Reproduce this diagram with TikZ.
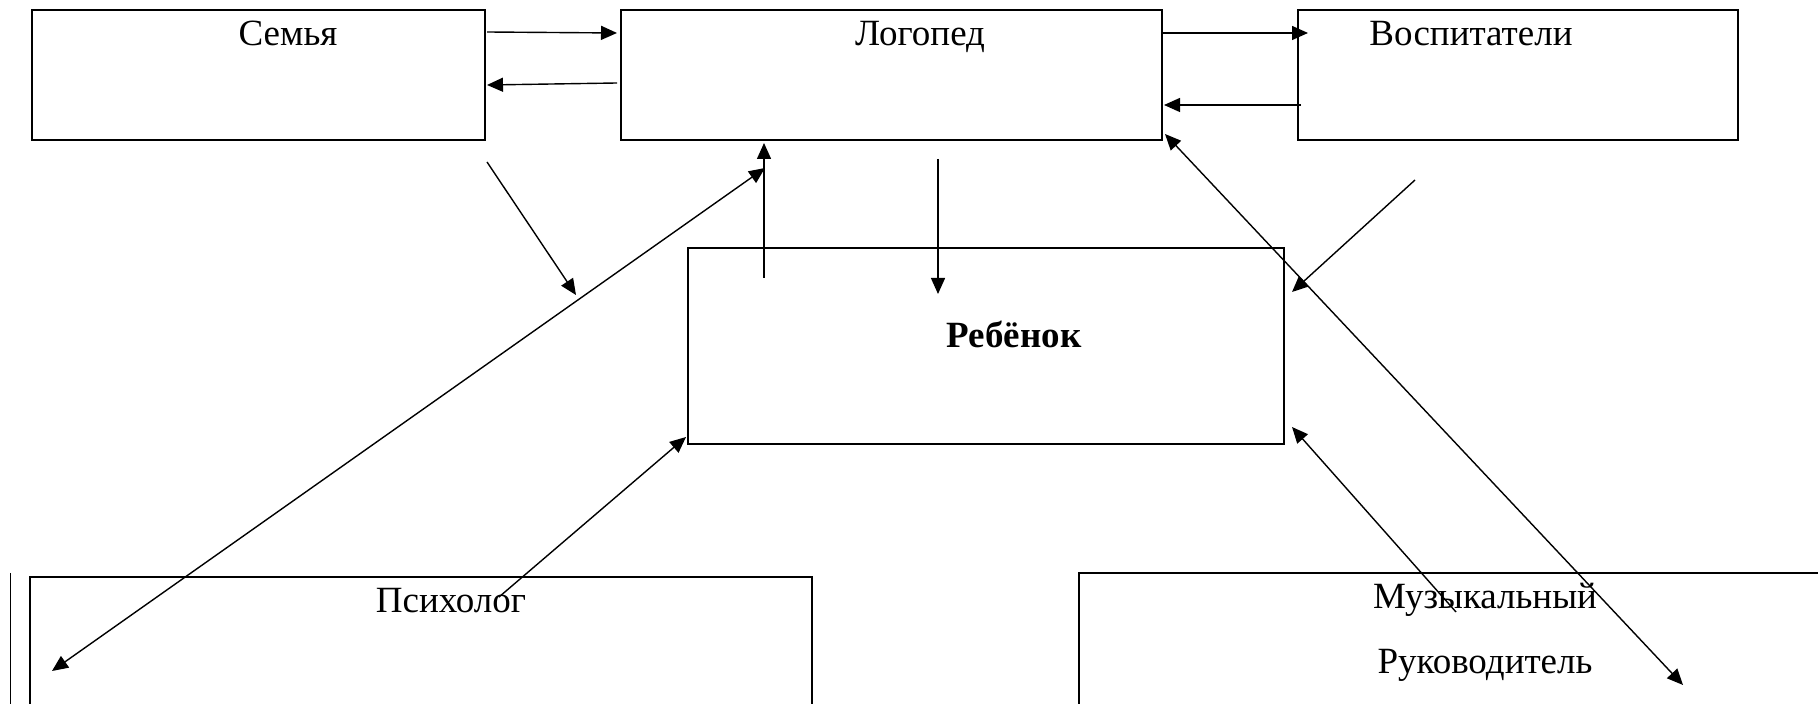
\documentclass[tikz,border=0pt]{standalone}
\usepackage{fontspec}
\setmainfont{Liberation Serif}
\usetikzlibrary{arrows.meta}
\usetikzlibrary{fit}

\begin{document}
\begin{tikzpicture}[x=0.5pt,y=-0.5pt,
  box/.style={draw=black,line width=1pt,inner sep=0pt},
  lbl/.style={font=\fontsize{18.5}{22}\selectfont,anchor=base,inner sep=0pt},
  arr/.style={line width=0.7pt,-{Triangle[length=8pt,width=7pt]}},
  darr/.style={line width=0.7pt,{Triangle[length=8pt,width=7pt]}-{Triangle[length=8pt,width=7pt]}}]
\useasboundingbox (0,0) rectangle (1818,704);
\clip (0,0) rectangle (1818,704);
\fill[white] (0,0) rectangle (1818,704);

\node[box,fit={(32,10) (485,140)}] (semya) {};
\node[box,fit={(621,10) (1162,140)}] (logoped) {};
\node[box,fit={(1298,10) (1738,140)}] (vospit) {};
\node[box,fit={(688,248) (1284,444)}] (rebenok) {};
\node[box,fit={(30,577) (812,760)}] (psiholog) {};
\node[box,fit={(1079,573) (1860,760)}] (muzruk) {};
\draw[line width=0.5pt] (10,573) -- (10,704);

\node[lbl] (semyaT) at (288,46) {Семья};
\node[lbl] (logopedT) at (920,46) {Логопед};
\node[lbl] (vospitT) at (1471,46) {Воспитатели};
\node[lbl,font=\fontsize{18.5}{22}\selectfont\bfseries] (rebenokT) at (1014,348) {Ребёнок};
\node[lbl] (psihologT) at (451,612) {Психолог};
\node[lbl] (muzrukA) at (1485,609) {Музыкальный};
\node[lbl] (muzrukB) at (1485,673) {Руководитель};

\coordinate (sl1) at (487,32);   \coordinate (ls1) at (617,33);
\coordinate (ls2) at (617,83);   \coordinate (sl2) at (487,85);
\coordinate (lv1) at (1163,33);  \coordinate (vl1) at (1308,33);
\coordinate (vl2) at (1301,105); \coordinate (lv2) at (1164,105);
\coordinate (sr1) at (487,162);  \coordinate (sr2) at (576,295);
\coordinate (vr1) at (1415,180); \coordinate (vr2) at (1292,292);
\coordinate (rl1) at (764,278);  \coordinate (rl2) at (764,143);
\coordinate (lr1) at (938,159);  \coordinate (lr2) at (938,294);
\coordinate (pl1) at (52,671);   \coordinate (pl2) at (765,168);
\coordinate (lm1) at (1165,134); \coordinate (lm2) at (1683,685);
\coordinate (pr1) at (499,597);  \coordinate (pr2) at (686,437);
\coordinate (mr1) at (1456,612); \coordinate (mr2) at (1292,427);

\draw[arr] (sl1) -- (ls1);
\draw[arr] (ls2) -- (sl2);
\draw[arr] (lv1) -- (vl1);
\draw[arr] (vl2) -- (lv2);
\draw[arr] (sr1) -- (sr2);
\draw[arr] (vr1) -- (vr2);
\draw[arr] (rl1) -- (rl2);
\draw[arr] (lr1) -- (lr2);
\draw[darr] (pl1) -- (pl2);
\draw[darr] (lm1) -- (lm2);
\draw[arr] (pr1) -- (pr2);
\draw[arr] (mr1) -- (mr2);

\end{tikzpicture}
\end{document}
